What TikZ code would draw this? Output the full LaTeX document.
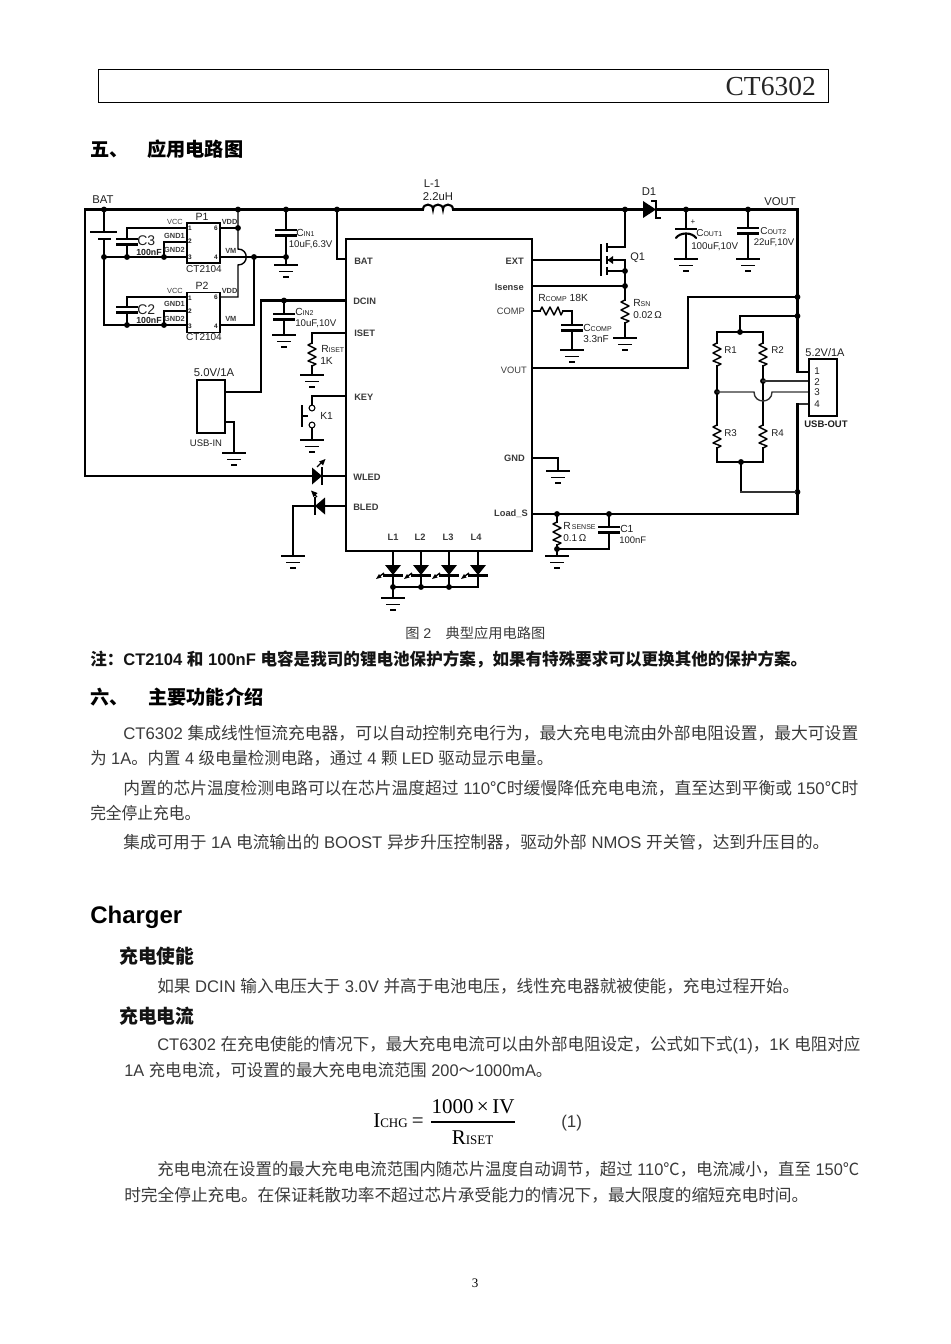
\documentclass[tikz,border=0pt]{standalone}
\usepackage{fontspec}
\usepackage{graphicx}
\setmainfont{Liberation Sans}
\newfontfamily\cjk{Noto Sans CJK SC}
\newfontfamily\serif{Liberation Serif}
\newcommand\C[1]{{\cjk #1}}
\newcommand\px[1]{\fontsize{\fpeval{#1*.75}}{\fpeval{#1*.9}}\selectfont}
\definecolor{bodyc}{HTML}{3A3A3A}
\definecolor{pinc}{HTML}{3A3A3A}
\tikzset{
  wA/.style={line width=2.2pt,line cap=rect},
  wB/.style={line width=1.6pt,line cap=rect},
  wC/.style={line width=1.05pt,line cap=rect},
  wD/.style={line width=0.85pt},
  dot/.style={circle,fill=black,inner sep=0pt,minimum size=4.4pt},
  lb/.style={inner sep=0pt,text=black!88},
  chipbox/.style={draw=black,line width=0.9pt,inner sep=0pt,fill=white},
  swc/.style={circle,draw=black,line width=0.8pt,inner sep=0pt,minimum size=4.4pt,fill=white},
  gndsym/.pic={\draw[wB] (-10.5,0)--(10.5,0); \draw[wC] (-6,6.5)--(6,6.5); \draw[wB] (-2.2,12)--(2.2,12);},
  resv/.pic={\draw[wC,line join=round] (0,0)--(-4,2)--(4,6)--(-4,10)--(4,14)--(-4,18)--(4,21)--(0,23);},
  resh/.pic={\draw[wC,line join=round] (0,0)--(2,-4)--(6,4)--(10,-4)--(14,4)--(18,-4)--(21,4)--(23,0);},
  capv/.pic={\draw[wB] (-9.5,0)--(9.5,0); \draw[wB] (-9.5,5.5)--(9.5,5.5);},
  ledd/.pic={\fill (-8,0)--(8,0)--(0,10)--cycle; \draw[wB] (-8.5,10.5)--(8.5,10.5);
     \draw[line width=1pt] (-9,8)--(-13,11); \fill (-17,14)--(-14,9)--(-11.5,12.5)--cycle;}
}
\newcommand\lbl[5]{\node[lb,anchor=#4] (#1) at (#2,#3) {#5};}
\newcommand\jn[3]{\coordinate (#1) at (#2,#3); \node[dot] (#1-d) at (#1) {};}
\newcommand\pin[5]{\node[lb,anchor=#4,text=pinc] (#1) at (#2,#3) {\px{9.3}\bfseries #5};}
\newcommand\spin[5]{\node[lb,anchor=#4,text=pinc] (#1) at (#2,#3) {\px{7.4}\bfseries #5};}
\newcommand\num[4]{\node[lb] (#1) at (#2,#3) {\px{6.5}\bfseries #4};}
\newcommand\sbt[2]{#1{\px{7}#2}}
\newcommand\bodyl[5]{\node[inner sep=0pt,anchor=base west] (#1) at (#2,#3)
   {\resizebox{\fpeval{#4*.75}pt}{\height}{\px{16.8}\color{bodyc}#5}};}
\newcommand\headl[5]{\node[inner sep=0pt,anchor=base west] (#1) at (#2,#3)
   {\resizebox{\fpeval{#4*.75}pt}{\height}{\px{19.2}\bfseries\color{black!92}#5}};}
\begin{document}
\begin{tikzpicture}[x=0.75pt,y=-0.75pt]
\useasboundingbox (0,0) rectangle (950,1344);
% ---- page header
\node[draw=black,line width=0.7pt,minimum width=547.5pt,minimum height=24.75pt,inner sep=0pt] (hdr) at (463.5,85.5) {};
\node[inner sep=0pt,anchor=base east,text=black!85] (hdrt) at (816,95.5) {\px{27.5}\serif CT6302};
\node[inner sep=0pt,anchor=base west] (h5a) at (90,157) {\px{19.2}\bfseries\C{五、}};
\node[inner sep=0pt,anchor=base west] (h5b) at (147,157) {\px{19.2}\bfseries\C{应用电路图}};

% ---- rail coordinates
\coordinate (railL) at (85,209.5);
\jn{nBat}{104}{209.5}
\jn{nA}{238}{209.5}
\jn{nB}{286}{209.5}
\jn{nC}{337}{209.5}
\coordinate (indL) at (423,209.5);
\coordinate (indR) at (453,209.5);
\jn{nD}{625}{209.5}
\coordinate (dA) at (643,209.5);
\coordinate (dK) at (656,209.5);
\jn{nE}{686}{209.5}
\jn{nF}{748}{209.5}
\coordinate (railR) at (797.5,209.5);
\draw[wA] (railL) -- (indL);
\draw[wB] (indL) .. controls (423,203) and (433,203) .. (433,209.5) .. controls (433,203) and (443,203) .. (443,209.5) .. controls (443,203) and (453,203) .. (453,209.5);
\draw[wA] (indR) -- (dA);
\draw[wA] (dK) -- (railR);
\fill (dA) ++(0,-8.5) -- ++(13,8.5) -- ++(-13,8.5) -- cycle;
\draw[wB,line cap=butt] (651,201) -- (656,201) -- (656,218) -- (661,218);
\lbl{tBat}{92}{200}{west}{\px{11.3}BAT}
\lbl{tL}{432}{184}{center}{\px{11.3}L-1}
\lbl{tLv}{438}{197}{center}{\px{11.3}2.2uH}
\lbl{tD}{649}{192}{center}{\px{11.3}D1}
\lbl{tVo}{780}{202}{center}{\px{11.3}VOUT}

% ---- left: battery and protection
\coordinate (railLb) at (85,476);
\draw[wB] (railL) -- (railLb);
\coordinate (bTop) at (104,232);
\coordinate (bBot) at (104,239);
\jn{nG}{104}{257}
\coordinate (nGb) at (104,325);
\draw[wA] (nBat) -- (bTop);
\draw[wB] (91,232) -- (116,232);
\draw[wB] (99,239) -- (110,239);
\draw[wA] (bBot) -- (nG) -- (nGb);

% P1
\node[chipbox,minimum width=24.75pt,minimum height=30pt] (P1) at (203.5,243) {};
\node[chipbox,minimum width=24.75pt,minimum height=30pt] (P2) at (203.5,312.5) {};
\coordinate (c3t) at (127,228);
\coordinate (p1v) at (187,228);
\jn{c3b}{127}{257}
\jn{g1}{164}{257}
\coordinate (g1u) at (164,242);
\coordinate (p1g) at (187,242);
\jn{nH}{254}{257}
\jn{nI}{286}{257}
\draw[wC] (c3t) -- (p1v);
\draw[wC] (c3t) -- (127,239);
\pic at (127,239) {capv};
\draw[wC] (127,244.5) -- (c3b);
\draw[wB] (nG) -- (P1.west|-nG);
\draw[wB] (g1) -- (g1u) -- (p1g);
\draw[wB] (P1.east|-nG) -- (nH) -- (nI);
% VDD bus with hop
\jn{nJ}{238}{228}
\draw[wC] (220,228) -- (nJ);
\draw[wC] (nA) -- (nJ) -- (238,249) .. controls (249,249) and (249,265) .. (238,265) -- (238,297) -- (220,297);
\draw[wB] (nH) -- (254,325) -- (P2.east|-nGb);
% CIN1
\draw[wC] (nB) -- (286,230);
\pic at (286,230) {capv};
\draw[wC] (286,235.5) -- (nI) -- (286,265);
\pic at (286,265) {gndsym};
% P2
\coordinate (c2t) at (127,297);
\jn{c2b}{127}{325}
\jn{g2}{164}{325}
\draw[wC] (c2t) -- (P2.west|-c2t);
\draw[wC] (c2t) -- (127,307);
\pic at (127,307) {capv};
\draw[wC] (127,312.5) -- (c2b);
\draw[wA] (nGb) -- (P2.west|-nGb);
\draw[wB] (g2) -- (164,311) -- (P2.west|-0,311);
% labels left
\lbl{tP1}{202}{217}{center}{\px{10.5}P1}
\lbl{tP2}{202}{286}{center}{\px{10.5}P2}
\spin{v1}{183}{222}{east}{\mdseries VCC}
\spin{g11}{185}{236}{east}{GND1}
\spin{g12}{185}{250}{east}{GND2}
\spin{vd1}{221.5}{222}{west}{VDD}
\spin{vm1}{225}{251}{west}{VM}
\spin{v2}{183}{291}{east}{\mdseries VCC}
\spin{g21}{185}{304}{east}{GND1}
\spin{g22}{185}{319}{east}{GND2}
\spin{vd2}{221.5}{291}{west}{VDD}
\spin{vm2}{225}{319}{west}{VM}
\num{n11}{190}{228}{1}\num{n16}{216}{228}{6}\num{n12}{190}{241}{2}\num{n13}{190}{257}{3}\num{n14}{216}{257}{4}
\num{n21}{190}{298}{1}\num{n26}{216}{297}{6}\num{n22}{190}{311}{2}\num{n23}{190}{326}{3}\num{n24}{216}{326}{4}
\lbl{tCT1}{204}{269}{center}{\px{10}CT2104}
\lbl{tCT2}{204}{337.5}{center}{\px{10}CT2104}
\lbl{tC3}{137}{241}{west}{\px{14}C3}
\lbl{tC3v}{136}{252}{west}{\px{8.8}\bfseries 100nF}
\lbl{tC2}{137}{310}{west}{\px{14}C2}
\lbl{tC2v}{136}{320}{west}{\px{8.8}\bfseries 100nF}
\lbl{tCi1}{296}{233}{west}{\px{10.3}\sbt{C}{IN1}}
\lbl{tCi1v}{288.5}{245}{west}{\px{9.7}10uF,6.3V}
\lbl{tCi2}{295}{312}{west}{\px{10.3}\sbt{C}{IN2}}
\lbl{tCi2v}{295}{324}{west}{\px{9.7}10uF,10V}
\lbl{tRi}{321}{349}{west}{\px{10.3}\sbt{R}{ISET}}
\lbl{tRiv}{320}{361}{west}{\px{10.3}1K}

% ---- main IC
\node[chipbox,fill=none,minimum width=139.5pt,minimum height=234pt] (U1) at (439,395) {};
\coordinate (uBat) at (346,259);
\coordinate (uDc) at (346,300.5);
\coordinate (uIs) at (346,333);
\coordinate (uKey) at (346,396);
\coordinate (uWl) at (346,476);
\coordinate (uBl) at (346,506);
\coordinate (uExt) at (532,260);
\coordinate (uSen) at (532,286);
\coordinate (uCom) at (532,311);
\coordinate (uVo) at (532,368);
\coordinate (uGnd) at (532,458);
\coordinate (uLoad) at (532,514);
\pin{pBat}{354}{261}{west}{BAT}
\pin{pDc}{353}{301}{west}{DCIN}
\pin{pIs}{354}{333}{west}{ISET}
\pin{pKey}{354}{397}{west}{KEY}
\pin{pWl}{353}{477}{west}{WLED}
\pin{pBl}{353}{507}{west}{BLED}
\pin{pExt}{524}{261}{east}{EXT}
\pin{pSen}{524}{287}{east}{Isense}
\pin{pCom}{525}{311}{east}{\mdseries COMP}
\pin{pVo}{527}{370}{east}{\mdseries VOUT}
\pin{pGn}{525}{458}{east}{GND}
\pin{pLo}{528}{514}{east}{Load\_S}
\pin{pL1}{393}{537}{center}{L1}
\pin{pL2}{420}{537}{center}{L2}
\pin{pL3}{448}{537}{center}{L3}
\pin{pL4}{476}{537}{center}{L4}

\draw[wA] (nC) |- (uBat);
% DCIN & USB-IN
\node[chipbox,minimum width=21pt,minimum height=39.75pt] (USBI) at (211,406.5) {};
\jn{nK}{284}{300.5}
\coordinate (dcDn) at (261,392);
\draw[wA] (uDc) -- (nK) -- (261,300.5) -- (dcDn) -- (USBI.east|-dcDn);
\draw[wC] (nK) -- (284,314);
\pic at (284,314) {capv};
\draw[wC] (284,319.5) -- (284,335);
\pic at (284,335) {gndsym};
\draw[wB] (USBI.east|-0,422) -- (234,422) -- (234,453);
\pic at (234,453) {gndsym};
\lbl{tU5}{214}{372}{center}{\px{11.3}5.0V/1A}
\lbl{tUin}{206}{443}{center}{\px{9.5}USB-IN}
% ISET
\draw[wC] (uIs) -- (312,333) -- (312,343);
\pic at (312,343) {resv};
\draw[wC] (312,366) -- (312,375);
\pic at (312,375) {gndsym};
% KEY
\node[swc] (sw1) at (312,408) {};
\node[swc] (sw2) at (312,425) {};
\draw[wC] (uKey) -- (312,396) -- (sw1);
\draw[wC] (sw2) -- (312,440);
\pic at (312,440) {gndsym};
\draw[line width=2.2pt] (302,405) -- (302,427);
\draw[wC] (302,416) -- (307,416);
\lbl{tK1}{320}{416}{west}{\px{10.3}K1}
% WLED
\coordinate (wlA) at (312,476);
\coordinate (wlK) at (322,476);
\draw[wB] (railLb) -- (wlA);
\draw[wC] (wlK) -- (uWl);
\fill (312,467.5) -- (322,476) -- (312,484.5) -- cycle;
\draw[wB] (322,468) -- (322,484);
\draw[line width=1pt] (317,467) -- (321,463);
\fill (325.5,459) -- (319,461.5) -- (323,465.5) -- cycle;
% BLED
\coordinate (blA) at (325,506);
\coordinate (blK) at (315,506);
\coordinate (blG) at (293,556);
\draw[wC] (uBl) -- (blA);
\draw[wC] (blK) -- (293,506) -- (blG);
\fill (325,497.5) -- (315,506) -- (325,514.5) -- cycle;
\draw[wB] (315,498) -- (315,514);
\draw[line width=1pt] (317,497) -- (314,494);
\fill (311,490.5) -- (317.5,493) -- (313.5,497) -- cycle;
\pic at (293,556) {gndsym};

% ---- LEDs on the bottom
\coordinate (lT1) at (393,551); \coordinate (lT2) at (421,551); \coordinate (lT3) at (449,551); \coordinate (lT4) at (478,551);
\jn{lB1}{393}{587}\jn{lB2}{421}{587}\jn{lB3}{449}{587}
\coordinate (lB4) at (478,587);
\foreach \a/\xx in {1/393,2/421,3/449,4/478}{
  \draw[wB] (lT\a) -- (lB\a);
  \pic at (\xx,565) {ledd};
}
\draw[wB] (lB1) -- (lB4);
\draw[wB] (lB1) -- (393,598);
\pic at (393,598) {gndsym};

% ---- right of IC
% Q1
\coordinate (qD) at (607,247);
\draw[wA] (nD) -- (625,247) -- (qD);
\coordinate (qG) at (601,260);
\draw[wC] (uExt) -- (qG);
\draw[wC] (601,245) -- (601,275);
\draw[wB,line cap=butt] (607,243.5) -- (607,252);
\draw[wB,line cap=butt] (607,256.5) -- (607,264);
\draw[wB,line cap=butt] (607,267) -- (607,275);
\jn{qS}{625}{271}
\jn{nL}{625}{286}
\draw[wB] (607,260) -- (625,260) -- (qS) -- (nL) -- (625,300);
\draw[wC] (607,271) -- (qS);
\fill (607.5,260) -- (613,256) -- (613,264) -- cycle;
\draw[wC] (uSen) -- (nL);
\pic at (625,300) {resv};
\draw[wC] (625,323) -- (625,338);
\pic at (625,338) {gndsym};
\lbl{tQ}{630}{258}{west}{\px{11}Q1}
\lbl{tRs}{633}{303}{west}{\px{10.3}\sbt{R}{SN}}
\lbl{tRsv}{633}{315}{west}{\px{10}0.02\,Ω}
% COMP
\draw[wC] (uCom) -- (540,311);
\pic at (540,311) {resh};
\draw[wC] (563,311) -- (572,311) -- (572,325);
\pic at (572,325) {capv};
\draw[wC] (572,330.5) -- (572,350);
\pic at (572,350) {gndsym};
\lbl{tRc}{538}{298}{west}{\px{10.3}\sbt{R}{COMP} 18K}
\lbl{tCc}{583}{328}{west}{\px{10.3}\sbt{C}{COMP}}
\lbl{tCcv}{583}{339.5}{west}{\px{10}3.3nF}
% COUT
\draw[wC] (nE) -- (686,229);
\draw[wB] (676,229) -- (696,229);
\draw[wB,line cap=round] (676,238) .. controls (680,232) and (692,232) .. (696,238);
\draw[wC] (686,234) -- (686,259);
\pic at (686,259) {gndsym};
\draw[wC] (nF) -- (748,228);
\pic at (748,228) {capv};
\draw[wC] (748,233.5) -- (748,259);
\pic at (748,259) {gndsym};
\lbl{tPl}{693}{222}{center}{\px{8}+}
\lbl{tCo1}{696}{233}{west}{\px{10}\sbt{C}{OUT1}}
\lbl{tCo1v}{691}{247}{west}{\px{9.8}100uF,10V}
\lbl{tCo2}{760}{231}{west}{\px{10}\sbt{C}{OUT2}}
\lbl{tCo2v}{753.5}{243}{west}{\px{9.6}22uF,10V}

% VOUT bus
\jn{nM}{797.5}{297}
\jn{nN}{797.5}{316}
\coordinate (j1) at (809,372);
\coordinate (j4) at (809,404);
\draw[wA] (railR) -- (nM) -- (nN) -- (797.5,372) -- (j1);
\draw[wC] (uVo) -- (688,368) -- (688,297) -- (nM);
\draw[wB] (nN) -- (740,316) -- (740,332);
% bridge
\jn{nT}{740}{332}
\draw[wB] (717,332) -- (763,332);
\draw[wC] (717,332) -- (717,343);
\pic at (717,343) {resv};
\draw[wC] (763,332) -- (763,343);
\pic at (763,343) {resv};
\jn{nP}{717}{392}
\jn{nQ}{763}{381}
\draw[wC] (717,366) -- (nP) -- (717,425);
\draw[wC] (763,366) -- (nQ) -- (763,425);
\pic at (717,425) {resv};
\pic at (763,425) {resv};
\jn{nR}{741}{462}
\jn{nS}{797.5}{492}
\draw[wC] (717,448) -- (717,462);
\draw[wC] (763,448) -- (763,462);
\draw[wB] (717,462) -- (763,462);
\draw[wB] (nR) -- (741,492);
\draw[wC,black!80] (741,492) -- (nS);
\draw[wC,black!80] (nQ) -- (809,381);
\draw[wC,black!80] (nP) -- (754,392) .. controls (754,404) and (772,404) .. (772,392) -- (809,392);
\draw[wC,black!80] (j4) -- (797.5,404);
\draw[wA] (797.5,404) -- (nS) -- (797.5,514) -- (uLoad);
\node[chipbox,minimum width=21pt,minimum height=42.75pt] (USBO) at (823,387.5) {};
\lbl{tUo}{825}{353}{center}{\px{11}5.2V/1A}
\lbl{tUo2}{826}{424}{center}{\px{9.5}\bfseries USB-OUT}
\lbl{n1}{817}{371}{center}{\px{9.8}1}
\lbl{n2}{817}{382}{center}{\px{9.8}2}
\lbl{n3}{817}{392.5}{center}{\px{9.8}3}
\lbl{n4}{817}{404}{center}{\px{9.8}4}
\lbl{tR1}{724}{350}{west}{\px{9.8}R1}
\lbl{tR2}{771}{350}{west}{\px{9.8}R2}
\lbl{tR3}{724}{433}{west}{\px{9.8}R3}
\lbl{tR4}{771}{433}{west}{\px{9.8}R4}
% GND pin
\draw[wC] (uGnd) -- (558,458) -- (558,471);
\pic at (558,471) {gndsym};
% Load sense
\jn{nU}{557}{514}
\jn{nV}{609}{514}
\jn{nW}{557}{549}
\draw[wC] (nU) -- (557,522);
\pic at (557,522) {resv};
\draw[wC] (557,545) -- (nW) -- (557,556);
\pic at (557,556) {gndsym};
\draw[wC] (nV) -- (609,527);
\pic at (609,527) {capv};
\draw[wB] (609,532.5) -- (609,549) -- (nW);
\lbl{tRse}{563}{526}{west}{\px{10.3}\sbt{R}{\,SENSE}}
\lbl{tRsev}{563}{538}{west}{\px{10}0.1\,Ω}
\lbl{tC1}{620}{529}{west}{\px{10.3}C1}
\lbl{tC1v}{619}{540}{west}{\px{9.5}100nF}

% ---- captions and text
\node[inner sep=0pt,anchor=base west] (cap) at (405,638) {\resizebox{105pt}{\height}{\px{14}\color{bodyc}\C{图} 2\hspace{1em}\C{典型应用电路图}}};
\headl{note}{90}{665}{717}{\px{16.8}\C{注：}CT2104 \C{和} 100nF \C{电容是我司的锂电池保护方案，如果有特殊要求可以更换其他的保护方案。}}
\node[inner sep=0pt,anchor=base west] (h6a) at (90,704) {\px{19.2}\bfseries\C{六、}};
\node[inner sep=0pt,anchor=base west] (h6b) at (148,704) {\px{19.2}\bfseries\C{主要功能介绍}};
\bodyl{b1}{123}{739}{735}{CT6302 \C{集成线性恒流充电器，可以自动控制充电行为，最大充电电流由外部电阻设置，最大可设置}}
\bodyl{b2}{90}{764}{463}{\C{为} 1A\C{。内置} 4 \C{级电量检测电路，通过} 4 \C{颗} LED \C{驱动显示电量。}}
\bodyl{b3}{123}{794}{735}{\C{内置的芯片温度检测电路可以在芯片温度超过} 110\C{℃时缓慢降低充电电流，直至达到平衡或} 150\C{℃时}}
\bodyl{b4}{90}{819}{110}{\C{完全停止充电。}}
\bodyl{b5}{123}{848}{706}{\C{集成可用于} 1A \C{电流输出的} BOOST \C{异步升压控制器，驱动外部} NMOS \C{开关管，达到升压目的。}}
\node[inner sep=0pt,anchor=base west] (chg) at (90,923) {\px{24}\bfseries Charger};
\headl{s1}{119}{963}{75}{\C{充电使能}}
\bodyl{b6}{157}{992}{642}{\C{如果} DCIN \C{输入电压大于} 3.0V \C{并高于电池电压，线性充电器就被使能，充电过程开始。}}
\headl{s2}{119}{1023}{75}{\C{充电电流}}
\bodyl{b7}{157}{1050}{703}{CT6302 \C{在充电使能的情况下，最大充电电流可以由外部电阻设定，公式如下式}(1)\C{，}1K \C{电阻对应}}
\bodyl{b8}{124}{1076}{428}{1A \C{充电电流，可设置的最大充电电流范围} 200\C{～}1000mA\C{。}}
% formula
\coordinate (fL) at (431,1122);
\coordinate (fR) at (515,1122);
\draw[line width=0.8pt] (fL) -- (fR);
\node[inner sep=0pt,anchor=base west] (fI) at (373,1127) {\px{21}\serif I\px{13}CHG\px{21}\hspace{0.2em}=};
\node[inner sep=0pt,anchor=base] (fN) at (473,1113) {\px{21}\serif 1000\,×\,IV};
\node[inner sep=0pt,anchor=base] (fD) at (472.5,1144) {\px{21}\serif R\px{13}ISET};
\node[inner sep=0pt,anchor=base west] (fE) at (561,1127) {\px{17}\color{bodyc}(1)};
\bodyl{b9}{157}{1175}{702}{\C{充电电流在设置的最大充电电流范围内随芯片温度自动调节，超过} 110\C{℃，电流减小，直至} 150\C{℃}}
\bodyl{b10}{124}{1201}{684}{\C{时完全停止充电。在保证耗散功率不超过芯片承受能力的情况下，最大限度的缩短充电时间。}}
\node[inner sep=0pt,anchor=base] (pg) at (475,1287) {\px{13}\serif 3};
\end{tikzpicture}
\end{document}
